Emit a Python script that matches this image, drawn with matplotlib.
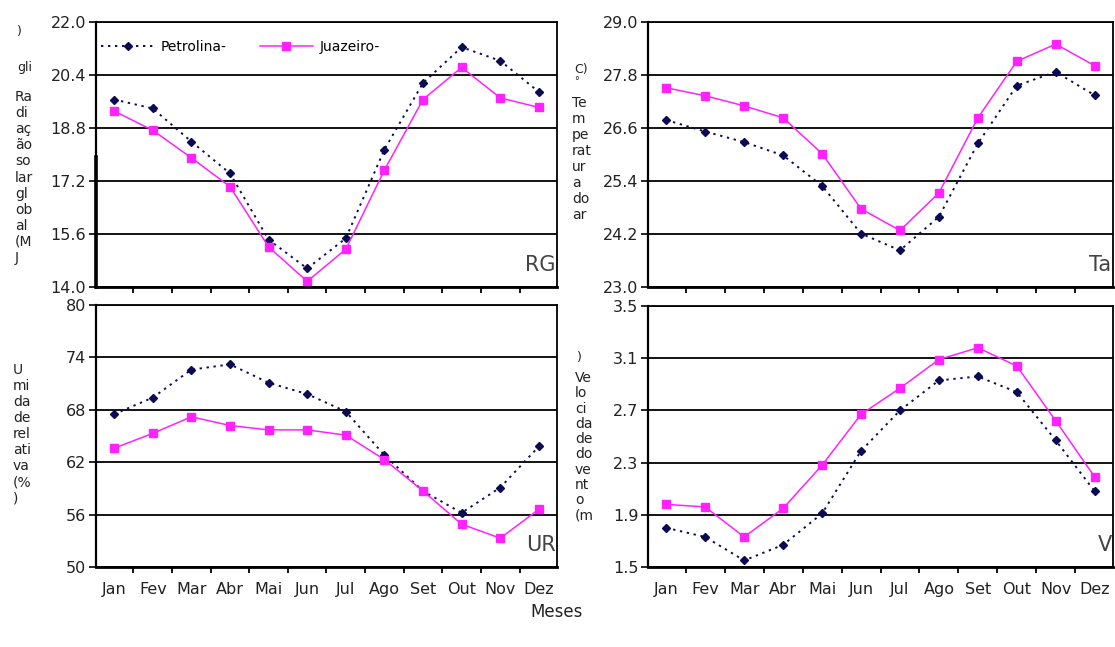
import matplotlib
matplotlib.use("Agg")
import matplotlib.pyplot as plt
from matplotlib.ticker import FixedLocator, FormatStrFormatter

W, H = 1115, 647

months = ["Jan", "Fev", "Mar", "Abr", "Mai", "Jun", "Jul", "Ago", "Set", "Out", "Nov", "Dez"]

# Radiação solar global (RG)
rg_petrolina = [19.66, 19.39, 18.39, 17.43, 15.43, 14.56, 15.47, 18.15, 20.16, 21.24, 20.83, 19.89]
rg_juazeiro = [19.31, 18.73, 17.90, 17.03, 15.21, 14.17, 15.14, 17.53, 19.66, 20.63, 19.71, 19.42]

# Temperatura do ar (Ta)
ta_petrolina = [26.78, 26.52, 26.28, 25.98, 25.29, 24.21, 23.83, 24.59, 26.25, 27.56, 27.87, 27.34]
ta_juazeiro = [27.51, 27.33, 27.10, 26.83, 26.02, 24.77, 24.28, 25.13, 26.83, 28.11, 28.50, 28.01]

# Umidade relativa (UR)
ur_petrolina = [67.5, 69.4, 72.6, 73.2, 71.1, 69.8, 67.8, 62.8, 58.7, 56.2, 59.1, 63.8]
ur_juazeiro = [63.6, 65.3, 67.2, 66.2, 65.7, 65.7, 65.1, 62.3, 58.7, 54.9, 53.3, 56.6]

# Velocidade do vento (V)
v_petrolina = [1.80, 1.73, 1.55, 1.67, 1.91, 2.39, 2.70, 2.93, 2.96, 2.84, 2.47, 2.08]
v_juazeiro = [1.98, 1.96, 1.73, 1.95, 2.28, 2.67, 2.87, 3.09, 3.18, 3.04, 2.62, 2.19]

panels = [
    # key, rect (px: left, top, right, bottom), petrolina, juazeiro, yticks, fmt
    ("RG", (96, 22, 557, 287), rg_petrolina, rg_juazeiro,
     [14.0, 15.6, 17.2, 18.8, 20.4, 22.0], "%.1f"),
    ("Ta", (648, 22, 1113, 287), ta_petrolina, ta_juazeiro,
     [23.0, 24.2, 25.4, 26.6, 27.8, 29.0], "%.1f"),
    ("UR", (96, 305, 557, 567), ur_petrolina, ur_juazeiro,
     [50, 56, 62, 68, 74, 80], "%d"),
    ("V", (648, 306, 1113, 567), v_petrolina, v_juazeiro,
     [1.5, 1.9, 2.3, 2.7, 3.1, 3.5], "%.1f"),
]

ylabel_frags = {
    "RG": (15, [(")", 32), ("gli", 68)], ["Ra", "di", "aç", "ão", "so", "lar", "gl", "ob", "al", "(M", "J"], 97, 16.1),
    "Ta": (572, [("C)", 70), ("°", 81)], ["Te", "m", "pe", "rat", "ur", "a", "do", "ar"], 103, 16.0),
    "UR": (13, [], ["U", "mi", "da", "de", "rel", "ati", "va", "(%", ")"], 370, 16.0),
    "V": (575, [(")", 358)], ["Ve", "lo", "ci", "da", "de", "do", "ve", "nt", "o", "(m"], 378, 15.3),
}

PET_COLOR = "#0b0b55"
JUA_COLOR = "#ff22ff"
TEXT_COLOR = "#222222"


def px_rect(left, top, right, bottom):
    return [left / W, 1 - bottom / H, (right - left) / W, (bottom - top) / H]


def fig_text(fig, x, y, s, **kw):
    fig.text(x / W, 1 - y / H, s, ha="left", va="center", color=TEXT_COLOR, **kw)


fig = plt.figure(figsize=(W / 100, H / 100), dpi=100)
x = list(range(1, 13))

for key, rect, pet, jua, yticks, fmt in panels:
    ax = fig.add_axes(px_rect(*rect))
    ax.plot(x, pet, color=PET_COLOR, linestyle=(0, (1.2, 2.4)), lw=1.4,
            marker="D", ms=4.5, mfc=PET_COLOR, mec=PET_COLOR, label="Petrolina-", zorder=3)
    ax.plot(x, jua, color=JUA_COLOR, linestyle="-", lw=1.1,
            marker="s", ms=6, mfc=JUA_COLOR, mec=JUA_COLOR, label="Juazeiro-", zorder=4)

    ax.set_xlim(0.53, 12.47)
    ax.set_ylim(yticks[0], yticks[-1])
    ax.yaxis.set_major_locator(FixedLocator(yticks))
    ax.yaxis.set_major_formatter(FormatStrFormatter(fmt))
    ax.grid(axis="y", color="black", lw=1.3)
    ax.set_axisbelow(True)

    ax.set_xticks(x)
    ax.xaxis.set_minor_locator(FixedLocator([i + 0.5 for i in range(1, 12)]))
    ax.tick_params(axis="x", which="major", length=0, pad=11)
    ax.tick_params(axis="x", which="minor", length=4.5, width=1.3, direction="out")
    ax.tick_params(axis="y", length=5, width=1.2, direction="out", pad=2,
                   labelsize=11.5, labelcolor=TEXT_COLOR)
    if key in ("UR", "V"):
        ax.set_xticklabels(months, fontsize=11.5, color=TEXT_COLOR)
    else:
        ax.set_xticklabels([])

    for side, sp in ax.spines.items():
        sp.set_color("black")
        sp.set_linewidth(1.3)
    ax.spines["bottom"].set_linewidth(2.0)
    ax.spines["left"].set_linewidth(1.6)

    ax.text(0.997, 0.045, key, transform=ax.transAxes, ha="right", va="bottom",
            fontsize=15, color="#444444", zorder=5)

    if key == "RG":
        ax.legend(loc="upper left", bbox_to_anchor=(-0.01, 0.97), ncol=2, frameon=False,
                  fontsize=10, handlelength=3.8, handletextpad=0.5, columnspacing=2.4,
                  borderaxespad=0.3)
        ax.plot([0, 0], [0, 0.49], transform=ax.transAxes, color="black", lw=2.6,
                clip_on=False, zorder=6)

    xl, extras, frags, y0, step = ylabel_frags[key]
    for s, yy in extras:
        fig_text(fig, xl + 2, yy, s, fontsize=9 if s != "°" else 7)
    for i, s in enumerate(frags):
        fig_text(fig, xl, y0 + i * step, s, fontsize=10)

fig.text(557 / W, 1 - 612 / H, "Meses", ha="center", va="center", fontsize=12, color=TEXT_COLOR)

fig.savefig("out.png", dpi=100)
